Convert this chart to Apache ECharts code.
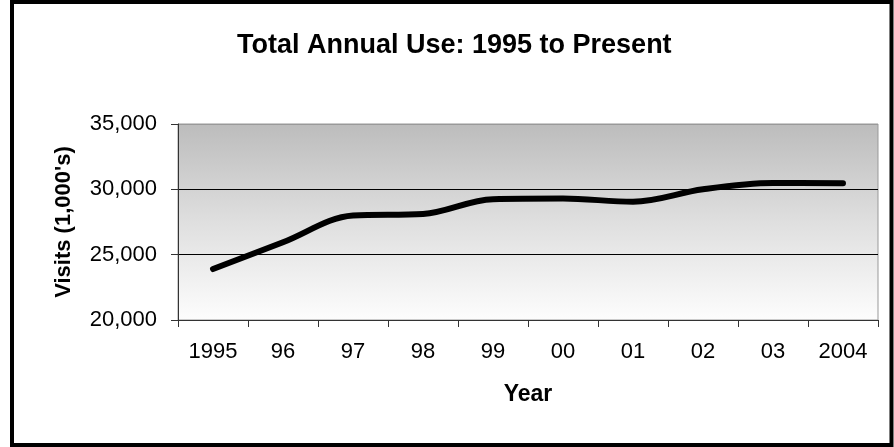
<!DOCTYPE html>
<html>
<head>
<meta charset="utf-8">
<script src="https://cdn.jsdelivr.net/npm/echarts@6/dist/echarts.min.js"></script>
<style>
html,body{margin:0;padding:0;background:#fff;}
#c{width:894px;height:447px;}
</style>
</head>
<body>
<div id="c"></div>
<script>
const categories = ['1995','96','97','98','99','00','01','02','03','2004'];
const visits = [23900, 25950, 28000, 28120, 29250, 29300, 29050, 30000, 30480, 30470];
const yTicks = { min: 20000, max: 35000, interval: 5000 };
const titleText = 'Total Annual Use: 1995 to Present';
const yName = "Visits (1,000's)";
const xName = 'Year';

const FONT = '"Liberation Sans", Arial, sans-serif';
const chart = echarts.init(document.getElementById('c'), null, {renderer: 'canvas'});
chart.setOption({
  animation: false,
  backgroundColor: '#fff',
  title: {
    text: titleText,
    left: 237, top: 32, padding: 0,
    textStyle: { fontFamily: FONT, fontSize: 27, fontWeight: 'bold', color: '#000' }
  },
  grid: {
    left: 178, right: 16, top: 124, bottom: 127,
    show: true,
    borderColor: '#999', borderWidth: 1,
    backgroundColor: {
      type: 'linear', x: 0, y: 0, x2: 0, y2: 1,
      colorStops: [
        { offset: 0, color: '#bcbcbc' },
        { offset: 0.5, color: '#dfdfdf' },
        { offset: 1, color: '#fdfdfd' }
      ]
    }
  },
  xAxis: {
    type: 'category',
    data: categories,
    boundaryGap: true,
    name: xName,
    nameLocation: 'middle',
    nameGap: 63,
    nameTextStyle: { fontFamily: FONT, fontSize: 23, fontWeight: 'bold', color: '#000' },
    axisLine: { lineStyle: { color: '#333', width: 1 } },
    axisTick: { show: true, length: 7, inside: false, lineStyle: { color: '#333' } },
    axisLabel: { fontFamily: FONT, fontSize: 22, color: '#000', margin: 21, interval: 0 },
    splitLine: { show: false }
  },
  yAxis: {
    type: 'value',
    min: yTicks.min, max: yTicks.max, interval: yTicks.interval,
    name: yName,
    nameLocation: 'middle',
    nameGap: 103,
    nameTextStyle: { fontFamily: FONT, fontSize: 22, fontWeight: 'bold', color: '#000' },
    axisLine: { show: true, lineStyle: { color: '#333', width: 1 } },
    axisTick: { show: true, length: 7, inside: false, lineStyle: { color: '#333' } },
    axisLabel: {
      fontFamily: FONT, fontSize: 22, color: '#000', margin: 21,
      formatter: v => v.toLocaleString('en-US')
    },
    splitLine: { show: true, lineStyle: { color: ['#333', '#000', '#000', '#999'], width: 1 } }
  },
  series: [{
    type: 'line',
    data: visits,
    smooth: 0.35,
    symbol: 'none',
    lineStyle: { color: '#000', width: 6, cap: 'round', join: 'round' }
  }],
  graphic: [{
    type: 'rect',
    shape: { x: 12, y: 2, width: 879.5, height: 443 },
    style: { fill: 'none', stroke: '#000', lineWidth: 4 },
    silent: true, z: 100
  }]
});
</script>
</body>
</html>
